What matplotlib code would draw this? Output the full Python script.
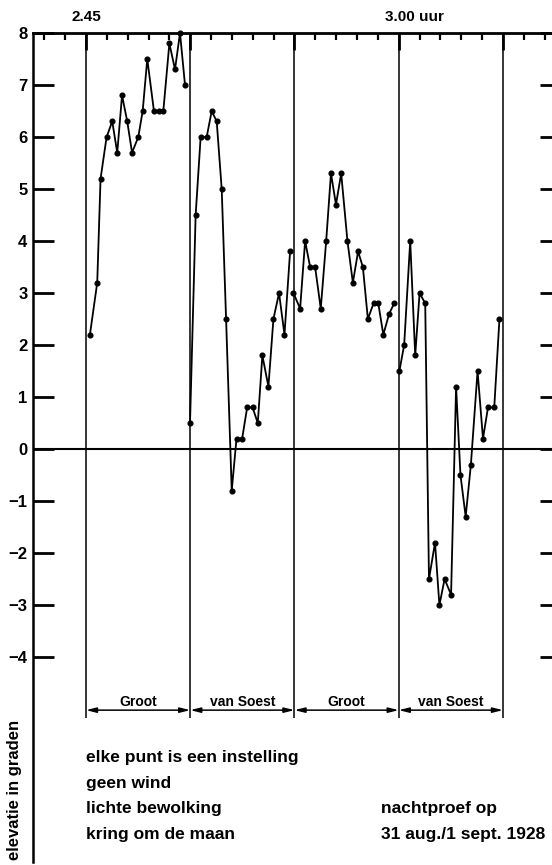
import matplotlib
matplotlib.use("Agg")
import matplotlib.pyplot as plt

plt.rcParams["font.family"] = ["Liberation Sans", "DejaVu Sans"]
plt.rcParams["font.weight"] = "bold"

# time in minutes after 2.45, elevation in degrees (one point per setting)
groot1_t = [0.19, 0.54, 0.70, 0.99, 1.26, 1.50, 1.73, 1.98, 2.21, 2.51,
            2.72, 2.94, 3.26, 3.50, 3.71, 4.00, 4.27, 4.51, 4.75]
groot1_v = [2.2, 3.2, 5.2, 6.0, 6.3, 5.7, 6.8, 6.3, 5.7, 6.0,
            6.5, 7.5, 6.5, 6.5, 6.5, 7.8, 7.3, 8.0, 7.0]

soest1_t = [4.99, 5.26, 5.50, 5.79, 6.03, 6.27, 6.51, 6.72, 6.99, 7.22,
            7.49, 7.73, 7.99, 8.24, 8.46, 8.75, 8.99, 9.26, 9.52, 9.79]
soest1_v = [0.5, 4.5, 6.0, 6.0, 6.5, 6.3, 5.0, 2.5, -0.8, 0.2,
            0.2, 0.8, 0.8, 0.5, 1.8, 1.2, 2.5, 3.0, 2.2, 3.8]

groot2_t = [9.95, 10.27, 10.51, 10.75, 10.99, 11.26, 11.52, 11.75, 11.99, 12.24,
            12.54, 12.80, 13.05, 13.28, 13.52, 13.79, 14.02, 14.26, 14.54, 14.78]
groot2_v = [3.0, 2.7, 4.0, 3.5, 3.5, 2.7, 4.0, 5.3, 4.7, 5.3,
            4.0, 3.2, 3.8, 3.5, 2.5, 2.8, 2.8, 2.2, 2.6, 2.8]

soest2_t = [15.03, 15.26, 15.55, 15.79, 16.00, 16.27, 16.45, 16.74, 16.95, 17.20,
            17.51, 17.75, 17.96, 18.21, 18.46, 18.78, 19.04, 19.28, 19.58, 19.83]
soest2_v = [1.5, 2.0, 4.0, 1.8, 3.0, 2.8, -2.5, -1.8, -3.0, -2.5,
            -2.8, 1.2, -0.5, -1.3, -0.3, 1.5, 0.2, 0.8, 0.8, 2.5]

block_edges = [0, 5, 10, 15, 20]
block_names = ["Groot", "van Soest", "Groot", "van Soest"]
y_ticks = list(range(-4, 9))
y_labels = [str(v).replace("-", "\u2212") for v in y_ticks]
notes = ["elke punt is een instelling", "geen wind", "lichte bewolking",
         "kring om de maan"]
date_notes = ["nachtproef op", "31 aug./1 sept. 1928"]

W, H = 552, 865
fig = plt.figure(figsize=(W / 100, H / 100), dpi=100)
ax = fig.add_axes([33 / W, 3 / H, 1 - 33 / W, (862 - 33) / H])
ax.set_xlim(-2.54, 22.35)
ax.set_ylim(-7.94, 8)

for s in ("right", "bottom"):
    ax.spines[s].set_visible(False)
ax.spines["left"].set_linewidth(1.8)
ax.spines["top"].set_linewidth(2.0)

# time ticks along the top: minutes, longer every 5 min
ax.xaxis.tick_top()
ax.set_xticks(block_edges)
ax.set_xticks([m for m in range(-2, 23) if m % 5], minor=True)
ax.tick_params(axis="x", which="major", direction="in", length=12, width=2,
               labeltop=False)
ax.tick_params(axis="x", which="minor", direction="in", length=5, width=1.6)

ax.set_yticks(y_ticks)
ax.set_yticklabels(y_labels, fontsize=12, fontweight="bold")
ax.tick_params(axis="y", direction="in", length=15, width=2, pad=4)

# short ticks on the right edge
axr = ax.twinx()
axr.set_ylim(ax.get_ylim())
axr.set_yticks(y_ticks)
axr.tick_params(axis="y", direction="in", length=9, width=2, labelright=False)
for s in axr.spines.values():
    s.set_visible(False)

ax.axhline(0, color="k", lw=1.5)
ax.vlines(block_edges, -5.17, 8, color="k", lw=1.1)

for t, v in [(groot1_t, groot1_v), (soest1_t, soest1_v),
             (groot2_t, groot2_v), (soest2_t, soest2_v)]:
    ax.plot(t, v, "-o", color="k", lw=1.3, ms=3.4, clip_on=False)

# observer brackets
for a, b, name in zip(block_edges[:-1], block_edges[1:], block_names):
    ax.annotate("", xy=(a, -5.02), xytext=(b, -5.02),
                arrowprops=dict(arrowstyle="<|-|>,head_length=0.6,head_width=0.15",
                                color="k", lw=1.1, shrinkA=0, shrinkB=0))
    ax.text((a + b) / 2, -4.86, name, ha="center", va="center", fontsize=10)

ax.text(0, 8.31, "2.45", ha="center", va="center", fontsize=11, clip_on=False)
ax.text(14.33, 8.31, "3.00 uur", ha="left", va="center", fontsize=11,
        clip_on=False)

for i, line in enumerate(notes):
    ax.text(0.02, -5.94 - 0.49 * i, line, ha="left", va="center", fontsize=12.5)
for i, line in enumerate(date_notes):
    ax.text(14.15, -6.92 - 0.49 * i, line, ha="left", va="center", fontsize=12.5)

fig.text(15 / W, 1 - 790 / H, "elevatie in graden", rotation=90,
         ha="center", va="center", fontsize=12)

fig.savefig("out.png", dpi=100)
